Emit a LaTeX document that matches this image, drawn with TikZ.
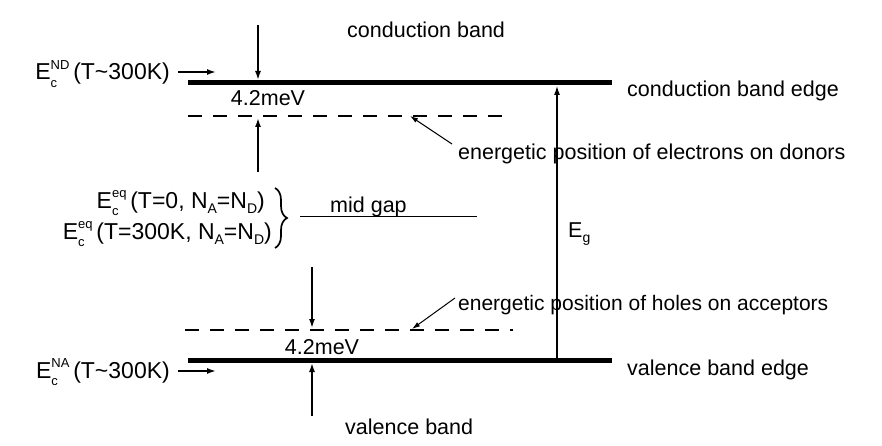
\documentclass[tikz,border=0pt]{standalone}
\usepackage{fontspec}
\setmainfont{Liberation Sans}
\usetikzlibrary{arrows.meta,decorations.pathreplacing}
\newcommand{\Ec}[1]{E\rlap{\raisebox{-0.6ex}{\fontsize{13}{13}\selectfont c}}\raisebox{0.85ex}{\fontsize{13}{13}\selectfont #1}\,}
\newcommand{\lowsub}[1]{\raisebox{-0.45ex}{\fontsize{14}{14}\selectfont #1}}
\begin{document}
\begin{tikzpicture}[x=1pt,y=-1pt,
  lbl/.style={font=\fontsize{21.5}{24}\selectfont, inner sep=0pt, anchor=base west},
  big/.style={font=\fontsize{23}{26}\selectfont},
  band/.style={line width=5pt},
  lvl/.style={line width=2pt, dash pattern=on 14pt off 11pt},
  arr/.style={line width=1.6pt, -{Latex[length=9pt,width=6pt]}},
  ptr/.style={line width=1pt, -{Latex[length=8pt,width=5pt]}},
  thin/.style={line width=1pt}]
\useasboundingbox (0,0) rectangle (882,446);

% bands and levels
\coordinate (cbL) at (188,83);  \coordinate (cbR) at (612,83);
\coordinate (vbL) at (188,360); \coordinate (vbR) at (612,360);
\coordinate (dL) at (188,116);  \coordinate (dR) at (510,116);
\coordinate (aL) at (185,330);  \coordinate (aR) at (513,330);
\draw[band] (cbL) -- (cbR);
\draw[band] (vbL) -- (vbR);
\draw[lvl] (dL) -- (dR);
\draw[lvl] (aL) -- (aR);

% texts
\node[lbl] (cb) at (347,38) {conduction band};
\node[lbl] (vb) at (345,434) {valence band};
\node[lbl] (cbe) at (627,97) {conduction band edge};
\node[lbl] (vbe) at (627,375) {valence band edge};
\node[lbl] (don) at (458,160) {energetic position of electrons on donors};
\node[lbl, font=\fontsize{21}{24}\selectfont] (acc) at (458,310) {energetic position of holes on acceptors};
\node[lbl, anchor=base] (mev1) at (268,106) {4.2meV};
\node[lbl, anchor=base] (mev2) at (322,354) {4.2meV};
\node[lbl, big, anchor=base east] (nd) at (170,80) {\Ec{ND}(T\textasciitilde300K)};
\node[lbl, big, anchor=base east] (na) at (170,378) {\Ec{NA}(T\textasciitilde300K)};
\node[lbl, big, anchor=base east] (eq1) at (265,208) {\Ec{eq}(T=0, N\lowsub{A}=N\lowsub{D})};
\node[lbl, big, anchor=base east] (eq2) at (272,239) {\Ec{eq}(T=300K, N\lowsub{A}=N\lowsub{D})};
\node[lbl] (mg) at (330,212) {mid gap};
\node[lbl] (eg) at (568,237) {E\lowsub{g}};

% label arrows
\coordinate (ndA) at (178,72); \coordinate (ndB) at (216,72);
\draw[arr] (ndA) -- (ndB);
\coordinate (naA) at (178,371); \coordinate (naB) at (216,371);
\draw[arr] (naA) -- (naB);

% 4.2 meV arrows
\coordinate (c1) at (258,25);  \coordinate (c2) at (258,80);
\draw[arr] (c1) -- (c2);
\coordinate (c3) at (258,172); \coordinate (c4) at (258,118);
\draw[arr] (c3) -- (c4);
\coordinate (v1) at (312,267); \coordinate (v2) at (312,328);
\draw[arr] (v1) -- (v2);
\coordinate (v3) at (312,416); \coordinate (v4) at (312,363);
\draw[arr] (v3) -- (v4);

% Eg arrow
\coordinate (g1) at (557,358); \coordinate (g2) at (557,86);
\draw[arr, line width=1.2pt] (g1) -- (g2);

% pointers
\coordinate (p1) at (452,144); \coordinate (p2) at (410,116);
\draw[ptr] (p1) -- (p2);
\coordinate (p3) at (455,298); \coordinate (p4) at (412,329);
\draw[ptr] (p3) -- (p4);

% brace and mid gap
\coordinate (b1) at (275,188); \coordinate (b2) at (275,248);
\draw[line width=1.7pt, decorate, decoration={brace, amplitude=12pt}] (b1) -- (b2);
\coordinate (m1) at (300,217); \coordinate (m2) at (477,217);
\draw[thin] (m1) -- (m2);
\end{tikzpicture}
\end{document}
